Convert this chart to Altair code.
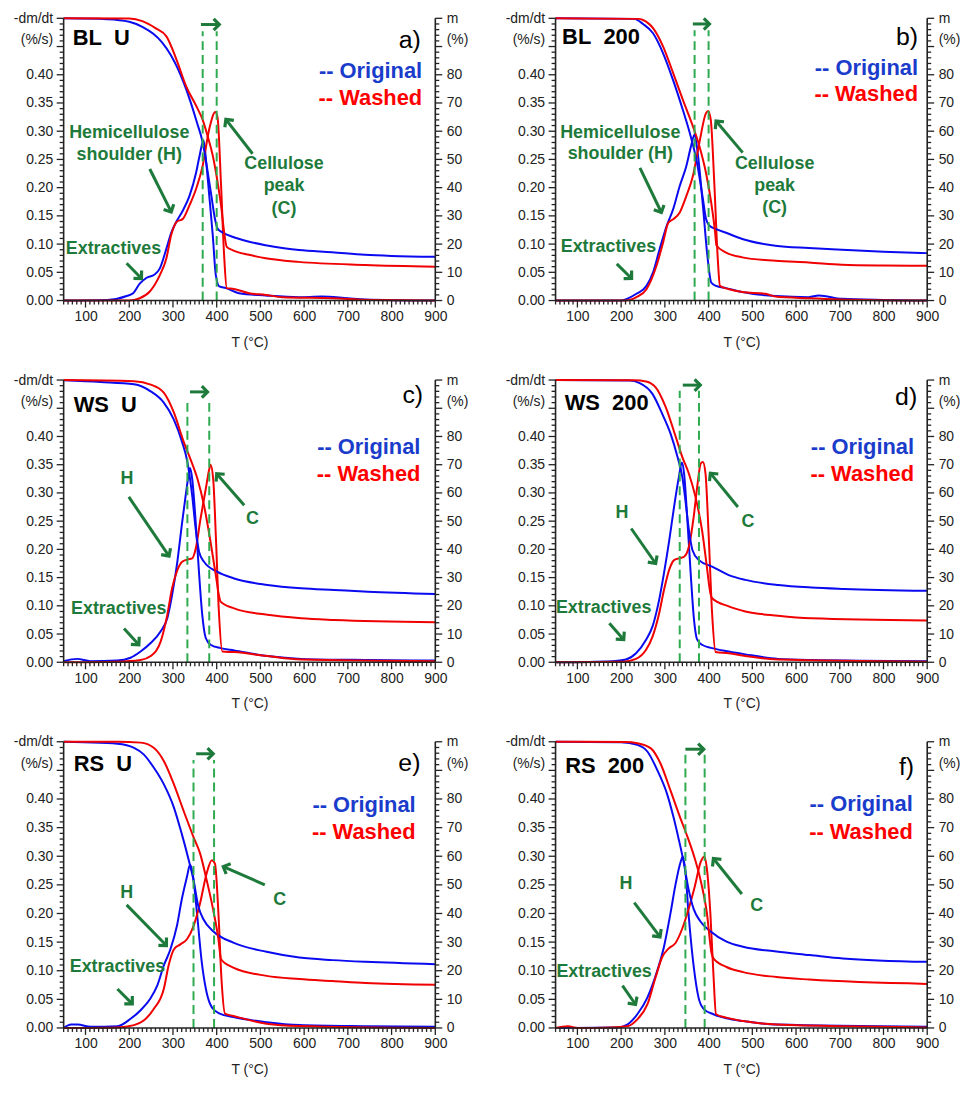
import math
import altair as alt
import pandas as pd

# ---------------- data ----------------
SERIES = ["Original", "Washed"]
PANEL_TITLES = ["BL\u00a0\u00a0U", "BL\u00a0\u00a0200", "WS\u00a0\u00a0U", "WS\u00a0\u00a0200", "RS\u00a0\u00a0U", "RS\u00a0\u00a0200"]
PANEL_TAGS = ["a)", "b)", "c)", "d)", "e)", "f)"]

# (T degC, -dm/dt %/s)
a_orig_dtg = [(50,0),(150,0.001),(194,0.008),(209,0.013),(224,0.03),(239,0.04),(258,0.046),(270,0.057),(285,0.092),(296,0.12),(308,0.14),(323,0.16),(338,0.186),(353,0.227),(361,0.257),(370,0.284),(376,0.245),(383,0.186),(391,0.116),(398,0.045),(406,0.025),(421,0.022),(451,0.013),(512,0.009),(588,0.006),(640,0.007),(700,0.004),(739,0.002),(900,0)]
a_wash_dtg = [(50,0),(200,0),(224,0.004),(247,0.016),(270,0.045),(285,0.075),(296,0.116),(308,0.139),(323,0.145),(338,0.169),(353,0.198),(368,0.239),(383,0.304),(397,0.334),(402,0.324),(410,0.204),(417,0.08),(423,0.022),(436,0.021),(474,0.013),(512,0.01),(550,0.006),(664,0.004),(750,0.001),(900,0)]
b_orig_dtg = [(50,0),(200,0),(213,0.003),(235,0.012),(258,0.026),(273,0.05),(288,0.091),(304,0.132),(319,0.162),(334,0.203),(349,0.238),(360,0.274),(368,0.294),(375,0.262),(387,0.168),(398,0.074),(406,0.032),(417,0.026),(440,0.022),(477,0.015),(553,0.008),(629,0.006),(652,0.009),(705,0.003),(800,0.001),(900,0)]
b_wash_dtg = [(50,0),(210,0),(235,0.006),(258,0.02),(281,0.062),(296,0.103),(308,0.138),(319,0.144),(334,0.156),(349,0.185),(364,0.22),(379,0.28),(394,0.332),(399,0.336),(405,0.32),(413,0.209),(421,0.074),(426,0.026),(447,0.02),(477,0.015),(530,0.012),(553,0.007),(629,0.004),(700,0.002),(900,0)]
c_orig_dtg = [(50,0.002),(81,0.006),(111,0.002),(172,0.003),(203,0.008),(226,0.019),(249,0.034),(272,0.055),(287,0.078),(298,0.119),(310,0.178),(321,0.248),(329,0.295),(337,0.337),(339,0.344),(344,0.325),(352,0.248),(360,0.154),(367,0.084),(375,0.043),(386,0.031),(409,0.025),(440,0.021),(516,0.011),(593,0.006),(746,0.004),(900,0.003)]
c_wash_dtg = [(50,0),(172,0.001),(226,0.004),(249,0.011),(272,0.037),(287,0.084),(298,0.131),(310,0.163),(321,0.178),(333,0.182),(344,0.184),(352,0.201),(363,0.254),(375,0.307),(383,0.342),(386,0.35),(392,0.325),(398,0.225),(405,0.09),(413,0.019),(440,0.018),(516,0.011),(593,0.005),(900,0.002)]
d_orig_dtg = [(50,0),(181,0.002),(211,0.005),(234,0.016),(257,0.04),(272,0.064),(287,0.111),(298,0.158),(310,0.216),(321,0.275),(332,0.328),(339,0.354),(344,0.334),(351,0.258),(359,0.158),(366,0.081),(374,0.04),(385,0.031),(408,0.025),(446,0.019),(484,0.014),(559,0.006),(635,0.004),(900,0.002)]
d_wash_dtg = [(50,0),(204,0.001),(234,0.006),(257,0.022),(272,0.046),(287,0.087),(298,0.128),(310,0.164),(321,0.181),(332,0.184),(344,0.187),(355,0.205),(366,0.258),(374,0.311),(382,0.352),(387,0.355),(393,0.334),(400,0.228),(408,0.087),(416,0.018),(446,0.016),(484,0.011),(559,0.005),(900,0.001)]
e_orig_dtg = [(50,0),(67,0.006),(82,0.006),(112,0.002),(173,0.003),(203,0.016),(226,0.031),(248,0.051),(264,0.074),(279,0.109),(294,0.137),(309,0.178),(320,0.224),(332,0.264),(339,0.285),(345,0.27),(355,0.2),(366,0.114),(377,0.062),(389,0.036),(407,0.025),(438,0.019),(514,0.01),(589,0.005),(741,0.003),(900,0.002)]
e_wash_dtg = [(50,0),(173,0.001),(211,0.005),(233,0.013),(256,0.033),(279,0.068),(290,0.109),(302,0.137),(317,0.146),(332,0.155),(347,0.178),(362,0.218),(377,0.27),(389,0.293),(396,0.287),(404,0.2),(411,0.085),(419,0.025),(438,0.021),(514,0.0075),(589,0.0035),(900,0)]
f_orig_dtg = [(50,0),(192,0.001),(214,0.006),(237,0.024),(260,0.053),(283,0.101),(298,0.142),(313,0.201),(324,0.249),(336,0.29),(341,0.299),(347,0.273),(354,0.201),(366,0.107),(377,0.053),(389,0.033),(411,0.024),(441,0.017),(479,0.012),(555,0.006),(900,0.002)]
f_wash_dtg = [(50,0),(78,0.003),(101,0),(176,0.001),(214,0.003),(237,0.015),(260,0.041),(279,0.089),(294,0.124),(309,0.139),(324,0.148),(339,0.172),(354,0.207),(369,0.249),(382,0.29),(390,0.299),(396,0.279),(404,0.201),(411,0.095),(417,0.024),(441,0.018),(479,0.012),(555,0.006),(900,0.001)]

# (T degC, m %)
a_orig_tg = [(50,100),(150,99.7),(200,98.8),(230,97),(255,94.5),(275,91.5),(295,87),(310,82.5),(325,77),(340,70.5),(355,63),(368,56),(378,47),(388,37),(396,29),(402,25.5),(415,24),(436,22.6),(470,21),(512,19.6),(550,18.6),(588,17.9),(664,17.1),(739,16.2),(800,15.8),(900,15.5)]
a_wash_tg = [(50,100),(200,99.9),(230,99),(260,96.5),(285,93.6),(308,85.4),(330,76),(353,69),(368,64),(379,58.4),(391,51.4),(402,42),(410,33.7),(417,24.3),(423,19),(436,17.9),(474,16.2),(512,15),(588,13.7),(739,12.6),(900,12)]
b_orig_tg = [(50,100),(230,99.8),(250,98),(273,94.7),(296,87.6),(319,78),(341,67.6),(357,59.4),(372,50),(387,36),(394,29),(402,26.5),(417,25.3),(440,24),(477,21.8),(553,19.4),(629,18.6),(705,18),(800,17.3),(900,16.8)]
b_wash_tg = [(50,100),(240,99.8),(250,99.4),(273,96.5),(296,90),(319,80.6),(341,71.2),(364,61.8),(379,54.7),(394,45.3),(406,34.7),(415,24),(418,19.5),(440,17),(477,15.3),(553,14.1),(629,13.5),(705,12.7),(800,12.4),(900,12.3)]
c_orig_tg = [(50,99.9),(134,99.3),(211,98.5),(249,96),(279,92),(302,86),(321,78),(333,71),(344,59),(352,47.3),(360,39),(371,35.6),(402,32),(440,29.7),(516,27.4),(593,26.2),(669,25.6),(746,25),(900,24.2)]
c_wash_tg = [(50,100),(211,99.6),(249,98.4),(279,95.5),(302,88.5),(325,77.9),(340,72),(356,65),(371,55.6),(386,42.6),(398,30.9),(405,23.8),(409,21.5),(440,19.1),(516,16.8),(593,15.6),(669,15),(900,14.2)]
d_orig_tg = [(50,100),(220,99.8),(241,99),(272,95),(294,88),(313,81),(329,72.7),(340,65.6),(347,57.4),(355,46.8),(363,39.8),(378,36.2),(408,33.9),(446,30.9),(484,29.2),(559,27.4),(635,26.5),(711,26),(900,25.3)]
d_wash_tg = [(50,100),(230,99.9),(257,99.5),(279,97.4),(302,90.4),(325,79.8),(340,72.7),(355,66.8),(370,58.6),(385,46.8),(396,33.9),(404,24.5),(408,22.7),(446,19.8),(484,18),(559,16.5),(635,15.6),(900,14.8)]
e_orig_tg = [(50,100),(97,99.8),(173,99.3),(211,97.9),(233,95.6),(256,91),(279,85.2),(302,77.1),(320,67.9),(336,58.7),(347,51.7),(358,42.5),(370,37.9),(392,33.8),(438,29.8),(514,26.6),(589,24.6),(665,23.7),(741,23.1),(900,22.3)]
e_wash_tg = [(50,100),(173,100),(226,99.7),(256,97.9),(279,93.3),(302,85.2),(324,76),(347,66.7),(362,61),(377,51.7),(392,41.3),(404,31),(410,24),(438,21.1),(514,18.2),(589,17.1),(665,16.4),(741,15.7),(900,15.1)]
f_orig_tg = [(50,100),(200,99.8),(237,98.9),(260,96.6),(283,90),(305,81.8),(320,73.5),(331,66.4),(343,58),(354,48.6),(366,41.5),(381,37.3),(404,33.8),(441,30.2),(479,28.4),(555,26.7),(631,25.5),(707,24.3),(900,23.1)]
f_wash_tg = [(50,100),(210,99.9),(237,99.5),(268,97.7),(290,92.4),(313,82.9),(335,73.5),(350,67.5),(366,60.4),(381,52.1),(396,40.3),(407,26),(411,24.3),(441,21.3),(479,19.5),(555,17.8),(631,16.9),(900,15.4)]

DTG = [(a_orig_dtg, a_wash_dtg), (b_orig_dtg, b_wash_dtg), (c_orig_dtg, c_wash_dtg),
       (d_orig_dtg, d_wash_dtg), (e_orig_dtg, e_wash_dtg), (f_orig_dtg, f_wash_dtg)]
TG = [(a_orig_tg, a_wash_tg), (b_orig_tg, b_wash_tg), (c_orig_tg, c_wash_tg),
      (d_orig_tg, d_wash_tg), (e_orig_tg, e_wash_tg), (f_orig_tg, f_wash_tg)]

# peak temperatures (dashed lines) and shift arrow (T start, T end, level)
PEAK_T = [(368, 400), (368, 400), (333, 383), (334, 378), (347, 394), (347, 391)]
SHIFT_ARROW = [(364, 406, 0.489), (364, 402, 0.490), (339, 379, 0.479), (341, 381, 0.491), (353, 392, 0.479), (347, 389, 0.487)]
DASH_TOP = [0.477, 0.479, 0.467, 0.481, 0.468, 0.480]

# annotation labels (text, T, level)
NOTES = [
    [("Extractives",164,0.092),("Hemicellulose",200,0.297),("shoulder (H)",200,0.258),("Cellulose",554,0.241),("peak",554,0.202),("(C)",554,0.163)],
    [("Extractives",171,0.094),("Hemicellulose",198,0.297),("shoulder (H)",198,0.259),("Cellulose",551,0.242),("peak",551,0.203),("(C)",551,0.164)],
    [("Extractives",176,0.095),("H",195,0.324),("C",482,0.254)],
    [("Extractives",160,0.096),("H",202,0.265),("C",490,0.248)],
    [("Extractives",173,0.106),("H",194,0.235),("C",544,0.224)],
    [("Extractives",161,0.097),("H",211,0.252),("C",510,0.213)],
]
# annotation arrows (T from, level from, T to, level to)
NOTE_ARROWS = [
    [(194,0.066,228,0.039),(247,0.233,296,0.157),(482,0.26,421,0.321)],
    [(190,0.065,224,0.039),(243,0.235,292,0.156),(478,0.262,417,0.318)],
    [(188,0.06,222,0.031),(199,0.293,291,0.188),(463,0.278,400,0.334)],
    [(173,0.069,206,0.04),(223,0.237,279,0.175),(467,0.275,404,0.335)],
    [(173,0.068,207,0.042),(194,0.215,285,0.144),(510,0.25,415,0.282)],
    [(203,0.074,233,0.041),(230,0.219,289,0.159),(476,0.234,411,0.296)],
]
# legend text position (T right edge, level Original, level Washed)
LEGEND_POS = [(870,0.407,0.358),(879,0.412,0.365),(866,0.382,0.334),(870,0.382,0.334),(855,0.39,0.342),(867,0.391,0.343)]
TITLE_POS = [(71,0.465),(65,0.466),(73,0.455),(71,0.459),(73,0.461),(72,0.458)]
TAG_POS = [(867,0.462),(879,0.466),(872,0.473),(877,0.469),(866,0.463),(870,0.456)]

# axis tick positions
X_MAJOR = list(range(100, 901, 100))
X_MINOR = [t for t in range(50, 901, 10) if t % 100 != 0]
Y_MAJOR = [round(i * 0.05, 2) for i in range(11)]
Y_MINOR = [round(i * 0.01, 2) for i in range(51) if i % 5 != 0]
M_MAJOR = list(range(0, 101, 10))
M_MINOR = [m for m in range(0, 101, 2) if m % 10 != 0]

# ---------------- styling ----------------
FONT = "Liberation Sans"
BLUE, RED = "#0a0af0", "#f00000"
BLUE_TXT, RED_TXT = "#1a3ccb", "#ff0000"
DKGREEN = "#1d7a3a"
DASHGREEN = "#2eaa4f"
AXC = "#222222"
W = 374
HEIGHTS = [284, 284, 284, 284, 288, 288]
CHEVRON = "M -1 1 L 0 0 L 1 1"
MAJ, MIN = 7, 4

XDOM = [50, 900]
YDOM = [0, 0.5]
MDOM = [0, 100]

common = dict(grid=False, labelOverlap=False, labelFlush=False, labelFont=FONT, labelFontSize=14,
              labelColor="#222", domain=False, ticks=False)

x_axis = alt.Axis(values=X_MAJOR, orient="bottom", labelPadding=MAJ + 2, format="d",
                  title="T (\u00b0C)", titleFont=FONT, titleFontSize=14, titleFontWeight="normal",
                  titleColor="#222", titlePadding=12, **common)
y_axis = alt.Axis(values=Y_MAJOR, orient="left", labelPadding=MAJ + 4, title=None,
                  labelExpr=("datum.value > 0.495 ? '-dm/dt' : (abs(datum.value - 0.45) < 0.001 ? '(%/s)' : "
                             "format(datum.value, '.2f'))"),
                  labelOffset={"condition": {"test": "abs(datum.value - 0.45) < 0.001", "value": -7}, "value": 0},
                  **common)
m_axis = alt.Axis(values=M_MAJOR, orient="right", labelPadding=MAJ + 4, title=None,
                  labelExpr="datum.value > 99 ? 'm' : (datum.value == 90 ? '(%)' : format(datum.value, 'd'))",
                  labelOffset={"condition": {"test": "datum.value == 90", "value": -7}, "value": 0},
                  **common)

def xs(axis=None):
    return alt.X("T:Q", scale=alt.Scale(domain=XDOM, nice=False, zero=False), axis=axis)

def ys(field="v", axis=None):
    return alt.Y(f"{field}:Q", scale=alt.Scale(domain=YDOM, nice=False, zero=False), axis=axis)

def ms(axis=None):
    return alt.Y("m:Q", scale=alt.Scale(domain=MDOM, nice=False, zero=False), axis=axis)

col_scale = alt.Scale(domain=SERIES, range=[BLUE, RED])

def tick_layers(H):
    """Axis lines and outward tick marks (filled tick marks), placed through the panel's scales."""
    layers = []
    # left and right axis lines
    layers.append(alt.Chart(pd.DataFrame({"T": [XDOM[0], XDOM[1]]})).mark_tick(
        orient="vertical", thickness=1.6, size=H, color=AXC, opacity=1).encode(
        x=xs(), y=alt.value(H / 2)))
    # bottom axis line
    layers.append(alt.Chart(pd.DataFrame({"v": [YDOM[0]]})).mark_tick(
        orient="horizontal", thickness=1.6, size=W, color=AXC, opacity=1).encode(
        y=ys("v"), x=alt.value(W / 2)))
    for vals, ln in ((X_MAJOR, MAJ), (X_MINOR, MIN)):
        layers.append(alt.Chart(pd.DataFrame({"T": vals})).mark_tick(
            orient="vertical", thickness=1.3, size=ln, color=AXC, opacity=1).encode(
            x=xs(), y=alt.value(H + ln / 2)))
    for vals, ln in ((Y_MAJOR, MAJ), (Y_MINOR, MIN)):
        layers.append(alt.Chart(pd.DataFrame({"v": vals})).mark_tick(
            orient="horizontal", thickness=1.3, size=ln, color=AXC, opacity=1).encode(
            y=ys("v"), x=alt.value(-ln / 2)))
    for vals, ln in ((M_MAJOR, MAJ), (M_MINOR, MIN)):
        layers.append(alt.Chart(pd.DataFrame({"m": vals})).mark_tick(
            orient="horizontal", thickness=1.3, size=ln, color=AXC, opacity=1).encode(
            y=ms(), x=alt.value(W + ln / 2)))
    return layers

def panel(i):
    H = HEIGHTS[i]
    pxT = W / (XDOM[1] - XDOM[0])
    pxV = H / (YDOM[1] - YDOM[0])

    dtg_rows = []
    for s, pts in zip(SERIES, DTG[i]):
        dtg_rows += [{"T": t, "v": v, "s": s} for t, v in pts]
    tg_rows = []
    for s, pts in zip(SERIES, TG[i]):
        tg_rows += [{"T": t, "m": m, "s": s} for t, m in pts]

    dtg = alt.Chart(pd.DataFrame(dtg_rows)).mark_line(strokeWidth=2, interpolate="monotone").encode(
        x=xs(x_axis), y=ys("v", y_axis),
        color=alt.Color("s:N", scale=col_scale, legend=None), detail="s:N")

    tg = alt.Chart(pd.DataFrame(tg_rows)).mark_line(strokeWidth=2, interpolate="monotone").encode(
        x=xs(), y=ms(m_axis),
        color=alt.Color("s:N", scale=col_scale, legend=None), detail="s:N")

    dash_df = pd.DataFrame([{"T": t, "v": 0.0, "v2": DASH_TOP[i]} for t in PEAK_T[i]])
    dashes = alt.Chart(dash_df).mark_rule(color=DASHGREEN, strokeWidth=2, strokeDash=[9, 5]).encode(
        x=xs(), y=ys("v"), y2="v2:Q")

    segs = []
    heads = []
    t0, t1, lev = SHIFT_ARROW[i]
    segs.append({"T": t0, "v": lev, "T2": t1, "v2": lev})
    heads.append({"T": t1, "v": lev, "ang": 90.0})
    for (ta, va, tb, vb) in NOTE_ARROWS[i]:
        segs.append({"T": ta, "v": va, "T2": tb, "v2": vb})
        dx = (tb - ta) * pxT
        dy = -(vb - va) * pxV
        ang = math.degrees(math.atan2(dx, -dy)) % 360
        heads.append({"T": tb, "v": vb, "ang": ang})
    shafts = alt.Chart(pd.DataFrame(segs)).mark_rule(color=DKGREEN, strokeWidth=3).encode(
        x=xs(), y=ys("v"), x2="T2:Q", y2="v2:Q")
    arrowheads = alt.Chart(pd.DataFrame(heads)).mark_point(
        shape=CHEVRON, filled=False, color=DKGREEN, strokeWidth=3.2, size=130, opacity=1,
        strokeJoin="miter").encode(x=xs(), y=ys("v"), angle=alt.Angle("ang:Q", scale=None))

    notes = alt.Chart(pd.DataFrame([{"T": t, "v": v, "txt": s} for s, t, v in NOTES[i]])).mark_text(
        font=FONT, fontSize=18, fontWeight="bold", color=DKGREEN, align="center", baseline="middle").encode(
        x=xs(), y=ys("v"), text="txt:N")

    lx, lo, lw = LEGEND_POS[i]
    leg = alt.Chart(pd.DataFrame([{"T": lx, "v": lo, "txt": "-- Original", "c": BLUE_TXT},
                                  {"T": lx, "v": lw, "txt": "-- Washed", "c": RED_TXT}])).mark_text(
        font=FONT, fontSize=22, fontWeight="bold", align="right", baseline="middle").encode(
        x=xs(), y=ys("v"), text="txt:N", color=alt.Color("c:N", scale=None))

    tx, ty = TITLE_POS[i]
    title = alt.Chart(pd.DataFrame([{"T": tx, "v": ty, "txt": PANEL_TITLES[i]}])).mark_text(
        font=FONT, fontSize=22, fontWeight="bold", color="black", align="left", baseline="middle").encode(
        x=xs(), y=ys("v"), text="txt:N")
    gx, gy = TAG_POS[i]
    tag = alt.Chart(pd.DataFrame([{"T": gx, "v": gy, "txt": PANEL_TAGS[i]}])).mark_text(
        font=FONT, fontSize=25, color="black", align="right", baseline="middle").encode(
        x=xs(), y=ys("v"), text="txt:N")

    layers = [dtg, tg, dashes] + tick_layers(H) + [shafts, arrowheads, notes, leg, title, tag]
    return alt.layer(*layers).resolve_scale(y="independent").resolve_axis(
        x="independent", y="independent").properties(width=W, height=H)

panels = [panel(i) for i in range(6)]

chart = alt.concat(*panels, columns=2, spacing={"row": 80, "column": 121}, bounds="flush").properties(
    padding={"left": 5, "top": 0, "right": 1, "bottom": 2}, background="white"
).configure_view(stroke=None)

chart.save("out.html", embed_options={"renderer": "svg", "actions": False})
